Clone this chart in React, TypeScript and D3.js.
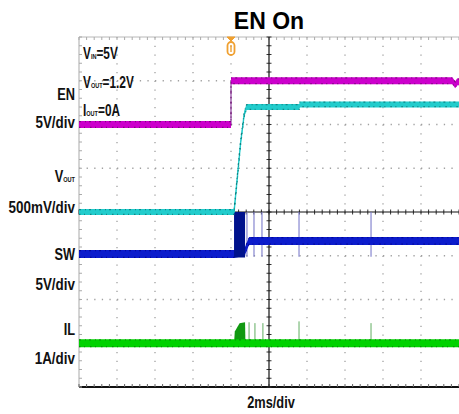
import React, { useEffect, useRef } from 'react';
import * as d3 from 'd3';

// time in ms (2ms/div, 10 div), screen position in div (8 div)
const timeRange = [-10, 10];
const divRange = [-4, 4];

// channel settings: offset in div, volts (or amps) per div
const enOffset = 2;
const enScale = 5;
const voutOffset = 0;
const voutScale = 0.5;
const swOffset = -1;
const swScale = 5;
const ilOffset = -3;
const ilScale = 1;

const triggerTime = -2;

const enTime = [-10, -2, -2, 9.65, 9.8, 9.9, 10];
const enVolts = [0, 0, 5, 5, 4.55, 4.85, 4.9];

const voutTime = [-10, -1.84, -1.49, -1.3, -1.18, 1.6, 1.62, 10];
const voutVolts = [0, 0, 0.8, 1.12, 1.2, 1.2, 1.23, 1.23];

const swTime = [-10, -1.84, -1.28, -1.05, 10];
const swVolts = [0.2, 0.2, 0.45, 1.7, 1.7];
const swBurst = [-1.84, -1.26];
const swSpikeTime = [-1.16, -0.79, -0.37, 1.58, 5.37];

const ilTime = [-10, 10];
const ilAmps = [0, 0];
const ilBumpTime = [-1.84, -1.8, -1.55, -1.26, -1.24];
const ilBumpAmps = [0, 0.27, 0.46, 0.48, 0];
const ilSpikeTime = [-1.05, -0.74, -0.32, 1.58, 5.37];
const ilSpikeAmps = [0.48, 0.46, 0.46, 0.5, 0.46];

const chLabels = [
  { name: 'EN', sub: '', scale: '5V/div', y1: 100, y2: 128 },
  { name: 'V', sub: 'OUT', scale: '500mV/div', y1: 182, y2: 213 },
  { name: 'SW', sub: '', scale: '5V/div', y1: 260, y2: 290 },
  { name: 'IL', sub: '', scale: '1A/div', y1: 335, y2: 364 },
];
const condLabels = [
  { main: 'V', sub: 'IN', rest: '=5V' },
  { main: 'V', sub: 'OUT', rest: '=1.2V' },
  { main: 'I', sub: 'OUT', rest: '=0A' },
];

const font = "'Liberation Sans', Arial, sans-serif";

const App = () => {
  const svgRef = useRef(null);

  useEffect(() => {
    const w = 459;
    const h = 414;
    const svg = d3.select(svgRef.current).attr('width', w).attr('height', h);
    svg.selectAll('*').remove();

    const x = d3.scaleLinear().domain(timeRange).range([79, 459]);
    const y = d3.scaleLinear().domain(divRange).range([387, 37]);

    const grid = svg.append('g');
    // dotted grid
    for (let i = 1; i < 10; i++) {
      if (i === 5) continue;
      grid.append('line').attr('x1', x(-10 + i * 2)).attr('x2', x(-10 + i * 2))
        .attr('y1', y(4)).attr('y2', y(-4))
        .attr('stroke', '#a0a0a0').attr('stroke-width', 1.3).attr('stroke-dasharray', '1.3 7.45');
    }
    for (let j = -3; j <= 3; j++) {
      if (j === 0) continue;
      grid.append('line').attr('x1', x(-10)).attr('x2', x(10))
        .attr('y1', y(j)).attr('y2', y(j))
        .attr('stroke', '#a0a0a0').attr('stroke-width', 1.3).attr('stroke-dasharray', '1.3 6.3');
    }
    // borders
    grid.append('line').attr('x1', x(-10)).attr('x2', x(10)).attr('y1', y(4)).attr('y2', y(4))
      .attr('stroke', '#b8b8b8').attr('stroke-width', 1);
    grid.append('line').attr('x1', x(-10)).attr('x2', x(-10)).attr('y1', y(4)).attr('y2', y(-4))
      .attr('stroke', '#b8b8b8').attr('stroke-width', 1.2);
    grid.append('line').attr('x1', x(-10)).attr('x2', x(10)).attr('y1', y(-4)).attr('y2', y(-4))
      .attr('stroke', '#111').attr('stroke-width', 2.2);

    // minor ticks on borders and center axes
    const tTicks = d3.range(-10, 10.01, 0.4);
    const dTicks = d3.range(-4, 4.01, 0.2);
    tTicks.forEach((t) => {
      grid.append('line').attr('x1', x(t)).attr('x2', x(t)).attr('y1', y(4)).attr('y2', y(4) + 3)
        .attr('stroke', '#aaa');
      grid.append('line').attr('x1', x(t)).attr('x2', x(t)).attr('y1', y(-4)).attr('y2', y(-4) - 3)
        .attr('stroke', '#666');
      grid.append('line').attr('x1', x(t)).attr('x2', x(t)).attr('y1', y(0) - 2.5).attr('y2', y(0) + 2.5)
        .attr('stroke', '#333');
    });
    dTicks.forEach((d) => {
      grid.append('line').attr('x1', x(-10)).attr('x2', x(-10) + 3).attr('y1', y(d)).attr('y2', y(d))
        .attr('stroke', '#aaa');
      grid.append('line').attr('x1', x(0) - 2.5).attr('x2', x(0) + 2.5).attr('y1', y(d)).attr('y2', y(d))
        .attr('stroke', '#333');
    });
    grid.append('line').attr('x1', x(-10)).attr('x2', x(10)).attr('y1', y(0)).attr('y2', y(0))
      .attr('stroke', '#111').attr('stroke-width', 1.2);
    grid.append('line').attr('x1', x(0)).attr('x2', x(0)).attr('y1', y(4)).attr('y2', y(-4))
      .attr('stroke', '#111').attr('stroke-width', 1.2);

    const traces = svg.append('g');
    const lineFor = (ts, vs, off, sc) =>
      d3.line().x((d, i) => x(ts[i])).y((d, i) => y(off + vs[i] / sc))(ts);

    // band drawn as an area so vertical edges stay thin, like a scope trace
    const drawBand = (ts, vs, off, sc, color, dark, width, edge) => {
      traces.append('path').attr('d', lineFor(ts, vs, off, sc)).attr('fill', 'none')
        .attr('stroke', edge).attr('stroke-width', 1.4);
      traces.append('path')
        .attr('d', d3.area().x((d, i) => x(ts[i]))
          .y0((d, i) => y(off + vs[i] / sc) + width / 2)
          .y1((d, i) => y(off + vs[i] / sc) - width / 2)(ts))
        .attr('fill', color);
      const d = lineFor(ts, vs, off, sc);
      [-width / 2 + 0.7, width / 2 - 0.7].forEach((dy, k) => {
        traces.append('path').attr('d', d).attr('fill', 'none').attr('stroke', dark)
          .attr('stroke-width', 1.2).attr('opacity', 0.75)
          .attr('stroke-dasharray', k ? '1.5 3.5 1 5' : '2 4 1 3')
          .attr('transform', `translate(0,${dy})`);
      });
    };

    // IL bump and spikes
    traces.append('path')
      .attr('d', d3.area().x((d, i) => x(ilBumpTime[i])).y0(y(ilOffset))
        .y1((d, i) => y(ilOffset + ilBumpAmps[i] / ilScale))(ilBumpTime))
      .attr('fill', '#119911');
    ilSpikeTime.forEach((t, i) => {
      traces.append('line').attr('x1', x(t)).attr('x2', x(t))
        .attr('y1', y(ilOffset)).attr('y2', y(ilOffset + ilSpikeAmps[i] / ilScale))
        .attr('stroke', '#3a9a3a').attr('stroke-width', 1).attr('opacity', 0.8);
    });
    drawBand(ilTime, ilAmps, ilOffset, ilScale, '#00d200', '#0a7a0a', 8, '#00d200');

    // SW
    swSpikeTime.forEach((t) => {
      traces.append('line').attr('x1', x(t)).attr('x2', x(t))
        .attr('y1', y(swOffset + 5 / swScale)).attr('y2', y(swOffset - 0.1 / swScale))
        .attr('stroke', '#7c7ccc').attr('stroke-width', 1.1);
    });
    drawBand(swTime, swVolts, swOffset, swScale, '#0c1ccc', '#00008a', 8, '#0c1ccc');
    traces.append('rect').attr('x', x(swBurst[0])).attr('width', x(swBurst[1]) - x(swBurst[0]))
      .attr('y', y(swOffset + 5 / swScale)).attr('height', y(swOffset - 0.2 / swScale) - y(swOffset + 5 / swScale))
      .attr('fill', '#00128c');

    // VOUT
    drawBand(voutTime, voutVolts, voutOffset, voutScale, '#22cccc', '#0b6f6f', 6, '#22cccc');

    // EN
    drawBand(enTime, enVolts, enOffset, enScale, '#cc00cc', '#6a0a6a', 7, '#a060b0');

    // trigger marker
    const tx = x(triggerTime);
    const mk = svg.append('g').attr('fill', 'none').attr('stroke', '#f0a030');
    mk.append('path').attr('d', `M${tx - 4},${y(4)} L${tx + 4},${y(4)} L${tx},${y(4) + 4} Z`)
      .attr('fill', '#f0a030');
    mk.append('rect').attr('x', tx - 3.5).attr('y', y(4) + 5).attr('width', 7).attr('height', 13)
      .attr('rx', 3.5).attr('stroke-width', 1.8);
    mk.append('line').attr('x1', tx).attr('x2', tx).attr('y1', y(4) + 8).attr('y2', y(4) + 15)
      .attr('stroke-width', 1.4);

    // text, squeezed horizontally to mimic the condensed bold face
    const squeezed = (px, py, sx, anchor) =>
      svg.append('text').attr('transform', `translate(${px},${py}) scale(${sx},1)`)
        .attr('text-anchor', anchor).attr('font-family', font).attr('font-weight', 'bold')
        .attr('font-size', 16).attr('fill', '#111');

    svg.append('text').attr('x', 269).attr('y', 29).attr('text-anchor', 'middle')
      .attr('font-family', font).attr('font-weight', 'bold')
      .attr('font-size', 23).text('EN On');
    squeezed(271, 408, 0.8, 'middle').text('2ms/div');

    chLabels.forEach((c) => {
      const t1 = squeezed(75, c.y1, 0.8, 'end');
      t1.append('tspan').text(c.name);
      if (c.sub) t1.append('tspan').attr('font-size', 7).text(c.sub);
      squeezed(75, c.y2, 0.84, 'end').text(c.scale);
    });

    condLabels.forEach((c, i) => {
      const t = squeezed(83, 59 + i * 28.5, 0.74, 'start');
      t.append('tspan').text(c.main);
      t.append('tspan').attr('font-size', 7.5).text(c.sub);
      t.append('tspan').text(c.rest);
    });
  }, []);

  return (
    <React.Fragment>
      <svg ref={svgRef} style={{ position: 'absolute', left: 0, top: 0, background: '#fff' }}></svg>
    </React.Fragment>
  );
};

export default App;
